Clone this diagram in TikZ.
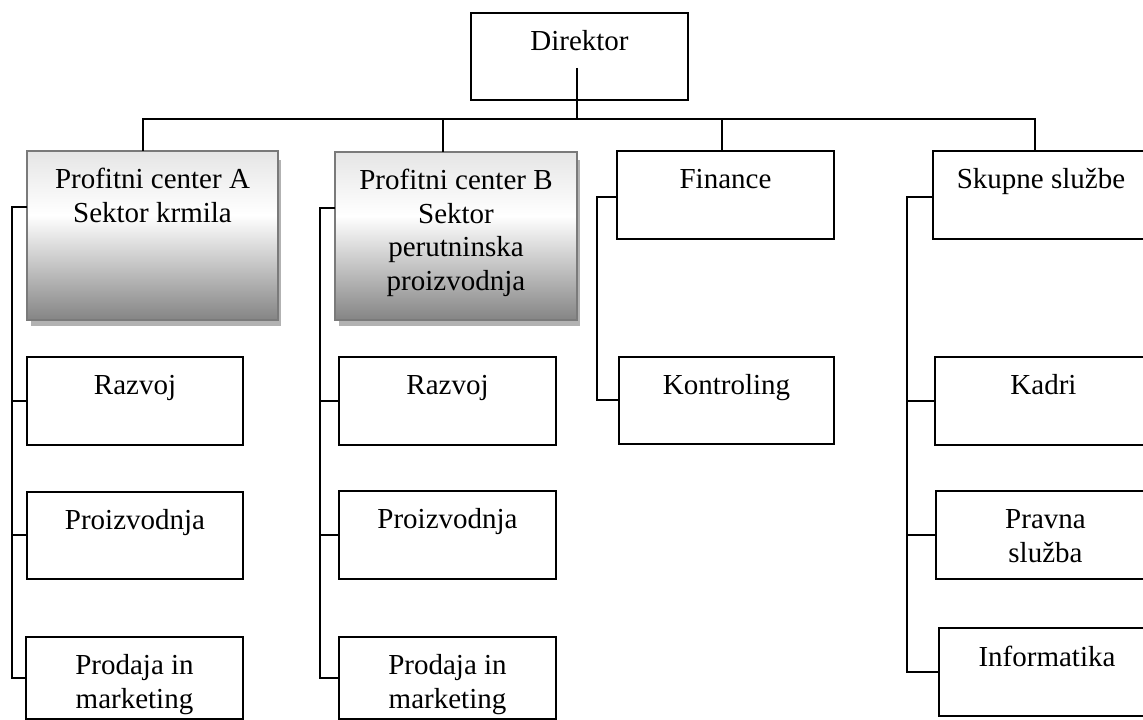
\documentclass[tikz,border=0pt]{standalone}
\usepackage{fontspec}
\setmainfont{Liberation Serif}
\usetikzlibrary{calc}

% vertical gradient of the two profit-centre boxes (light top, white band, grey bottom)
\pgfdeclareverticalshading{pcshade}{100bp}{%
  color(0bp)=(black!48); color(25bp)=(black!48);
  color(56bp)=(white);
  color(75bp)=(black!10); color(100bp)=(black!10)}

\tikzset{
  orgtext/.style={font=\fontsize{29}{33.5}\selectfont, inner sep=0pt, outer sep=0pt},
  plainbox/.style={orgtext, draw=black, line width=2pt, fill=white},
  pcbox/.style={orgtext, draw=black!52, line width=2.4pt, shading=pcshade},
  pcshadow/.style={fill=black!30, draw=none},
  link/.style={draw=black, line width=2pt}
}

% \orgbox[style]{name}{left}{top}{right}{bottom}{text}  (top/bottom measured downwards)
\newcommand\orgbox[7][plainbox]{%
  \pgfmathsetmacro\obW{#5-#3}%
  \pgfmathsetmacro\obH{#6-#4}%
  \node[#1, minimum width=\obW pt, minimum height=\obH pt] (#2)
    at ({(#3+#5)/2},{720-(#4+#6)/2})
    {\parbox[c][\obH pt][t]{\obW pt}{\centering\rule{0pt}{38pt}#7}};}

\begin{document}
\begin{tikzpicture}[x=1pt,y=1pt]
  \useasboundingbox (0,0) rectangle (1143,720);
  \clip (0,0) rectangle (1143,720);

  % head of the organisation
  \orgbox{dir}{471}{13}{688}{100}{Direktor}

  % profit centres with their drop shadows
  \fill[pcshadow] (31,720-326) rectangle (281,720-160);
  \fill[pcshadow] (339,720-326) rectangle (580,720-160);
  \orgbox[pcbox]{pca}{27}{151}{278}{320}{Profitni center A\\Sektor krmila}
  \orgbox[pcbox]{pcb}{335}{152}{577}{320}{Profitni center B\\Sektor\\perutninska\\proizvodnja}

  % staff departments
  \orgbox{fin}{617}{151}{834}{239}{Finance}
  \orgbox{skup}{933}{151}{1149}{239}{Skupne službe}

  % units under profit centre A
  \orgbox{a1}{27}{357}{243}{445}{Razvoj}
  \orgbox{a2}{27}{492}{243}{579}{Proizvodnja}
  \orgbox{a3}{26}{637}{243}{719}{Prodaja in\\marketing}

  % units under profit centre B
  \orgbox{b1}{339}{357}{556}{445}{Razvoj}
  \orgbox{b2}{339}{491}{556}{579}{Proizvodnja}
  \orgbox{b3}{339}{637}{556}{719}{Prodaja in\\marketing}

  % unit under finance
  \orgbox{k1}{619}{357}{834}{444}{Kontroling}

  % units under common services
  \orgbox{s1}{935}{357}{1152}{445}{Kadri}
  \orgbox{s2}{936}{491}{1155}{579}{Pravna\\služba}
  \orgbox{s3}{939}{628}{1155}{716}{Informatika}

  % top-level bus
  \coordinate (dirstem) at (577,652);
  \coordinate (bus) at (577,601);
  \draw[link] (dirstem) -- (bus);
  \draw[link] ([xshift=-9.5pt]pca.north) |- (bus) -| ([xshift=-6pt]skup.north);
  \draw[link] ([xshift=-13pt]pcb.north) -- ([xshift=-13pt]pcb.north |- bus);
  \draw[link] ([xshift=-3.5pt]fin.north) -- ([xshift=-3.5pt]fin.north |- bus);

  % left-hand spines of each column
  \coordinate (aspine) at (12,0);
  \coordinate (bspine) at (320,0);
  \coordinate (fspine) at (597,0);
  \coordinate (sspine) at (907,0);

  \draw[link] ([yshift=28.5pt]pca.west) -| (a3.west -| aspine) -- (a3.west);
  \draw[link] (a1.west -| aspine) -- (a1.west);
  \draw[link] (a2.west -| aspine) -- (a2.west);

  \draw[link] ([yshift=28pt]pcb.west) -| (b3.west -| bspine) -- (b3.west);
  \draw[link] (b1.west -| bspine) -- (b1.west);
  \draw[link] (b2.west -| bspine) -- (b2.west);

  \draw[link] ([yshift=-2pt]fin.west) -| (k1.west -| fspine) -- (k1.west);

  \draw[link] ([yshift=-2pt]skup.west) -| (s3.west -| sspine) -- (s3.west);
  \draw[link] (s1.west -| sspine) -- (s1.west);
  \draw[link] (s2.west -| sspine) -- (s2.west);
\end{tikzpicture}
\end{document}
